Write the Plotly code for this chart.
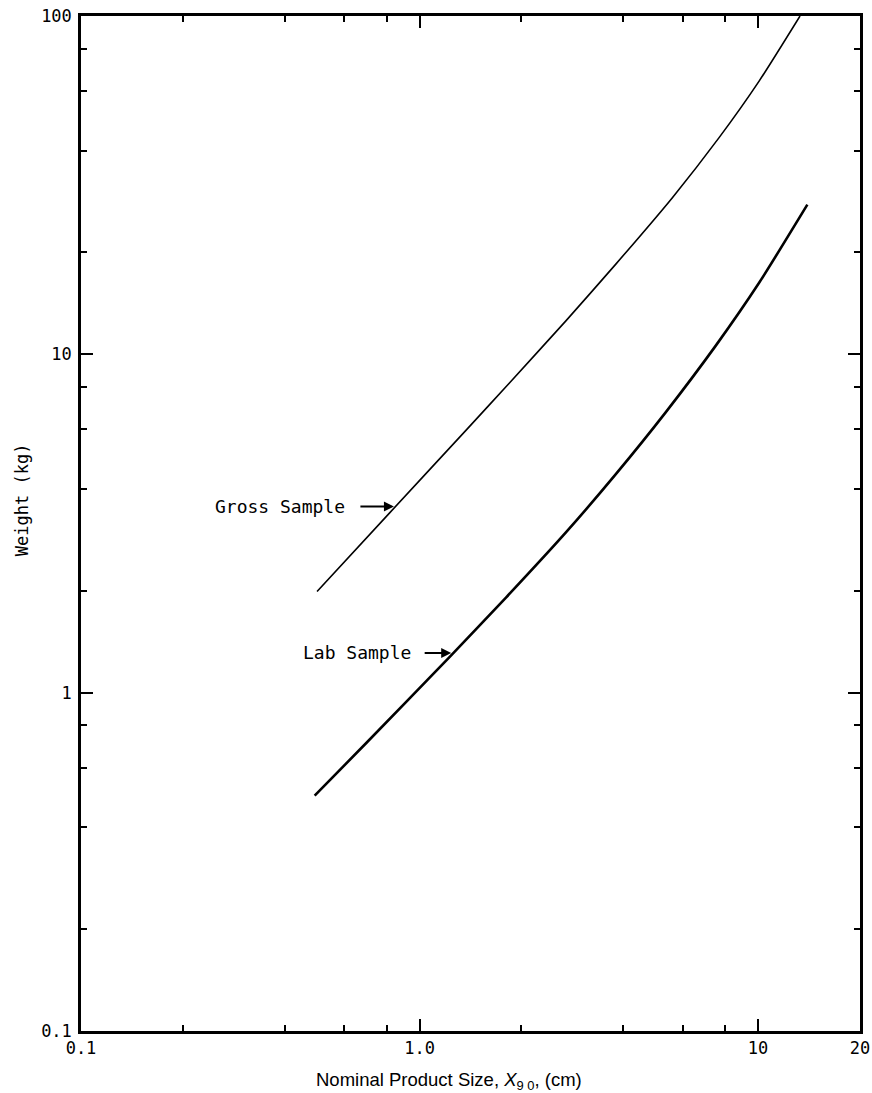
import math
import plotly.graph_objects as go

# Data (log-log)
gross_x = [0.498, 0.816, 1.373, 1.843, 2.71, 3.80, 5.59, 7.67, 10.07, 13.3]
gross_y = [1.99, 3.40, 5.97, 8.23, 12.58, 18.48, 29.1, 43.7, 64.2, 100.0]

lab_x = [0.49, 0.696, 1.24, 1.80, 2.71, 3.80, 5.34, 7.50, 10.07, 13.98]
lab_y = [0.496, 0.710, 1.289, 1.910, 2.981, 4.425, 6.75, 10.61, 16.27, 27.7]

x_major = [0.1, 1, 10, 20]
x_major_text = ["0.1", "1.0", "10", "20"]
x_minor = [0.2, 0.4, 0.6, 0.8, 2, 4, 6, 8]

y_major = [0.1, 1, 10, 100]
y_major_text = ["0.1", "1", "10", "100"]
y_minor = [0.2, 0.4, 0.6, 0.8, 2, 4, 6, 8, 20, 40, 60, 80]

gross_label_pt = (0.84, 3.55)
lab_label_pt = (1.24, 1.31)

MONO = "DejaVu Sans Mono"

fig = go.Figure()
fig.add_trace(go.Scatter(x=gross_x, y=gross_y, mode="lines",
                         line=dict(color="black", width=1.6, shape="spline", smoothing=0.6),
                         showlegend=False, hoverinfo="skip"))
fig.add_trace(go.Scatter(x=lab_x, y=lab_y, mode="lines",
                         line=dict(color="black", width=2.6, shape="spline", smoothing=0.6),
                         showlegend=False, hoverinfo="skip"))

axis_common = dict(
    showgrid=False, zeroline=False, showline=True, linecolor="black", linewidth=2.5,
    mirror="allticks", ticks="inside", ticklen=12, tickwidth=2.2, tickcolor="black",
    tickfont=dict(family=MONO, size=17, color="black"),
    ticklabeloverflow="allow", automargin=False,
)

fig.update_xaxes(type="log", range=[-1, math.log10(20)], tickmode="array",
                 tickvals=x_major, ticktext=x_major_text,
                 minor=dict(tickmode="array", tickvals=x_minor, ticks="inside",
                            ticklen=6, tickwidth=2.2, tickcolor="black", showgrid=False),
                 **axis_common)
fig.update_yaxes(type="log", range=[-1, 2], tickmode="array",
                 tickvals=y_major, ticktext=y_major_text, ticklabelstandoff=3,
                 minor=dict(tickmode="array", tickvals=y_minor, ticks="inside",
                            ticklen=6, tickwidth=2.2, tickcolor="black", showgrid=False),
                 **axis_common)

fig.add_annotation(x=math.log10(gross_label_pt[0]), y=math.log10(gross_label_pt[1]),
                   xref="x", yref="y",
                   text="Gross Sample", showarrow=True, ax=-114, ay=0,
                   arrowhead=2, arrowsize=1, arrowwidth=2, arrowcolor="black",
                   startstandoff=14,
                   font=dict(family=MONO, size=18, color="black"))
fig.add_annotation(x=math.log10(lab_label_pt[0]), y=math.log10(lab_label_pt[1]),
                   xref="x", yref="y",
                   text="Lab Sample", showarrow=True, ax=-94, ay=0,
                   arrowhead=2, arrowsize=1, arrowwidth=2, arrowcolor="black",
                   startstandoff=12,
                   font=dict(family=MONO, size=18, color="black"))

fig.add_annotation(x=-0.0757, y=0.523, xref="paper", yref="paper",
                   text="Weight (kg)", textangle=-90, showarrow=False,
                   xanchor="center", yanchor="middle",
                   font=dict(family=MONO, size=17, color="black"))
fig.add_annotation(x=0.472, y=-0.049, xref="paper", yref="paper",
                   text="Nominal Product Size, <i>X</i><sub>9 0</sub>, (cm)", showarrow=False,
                   xanchor="center", yanchor="middle",
                   font=dict(family="Liberation Sans", size=18.5, color="black"))

fig.update_layout(
    width=872, height=1093,
    margin=dict(l=81, r=12, t=16, b=62),
    paper_bgcolor="white", plot_bgcolor="white",
    showlegend=False,
)

fig.write_html("out.html", config={"displayModeBar": False},
               post_script="document.body.style.margin='0';document.body.style.overflow='hidden';")
